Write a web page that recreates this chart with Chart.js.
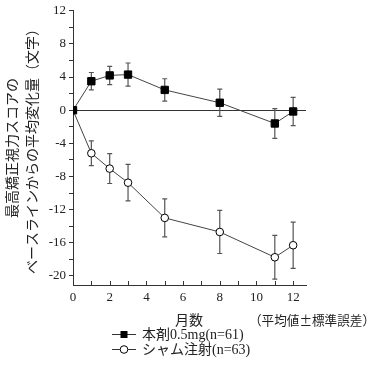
<!DOCTYPE html>
<html><head><meta charset="utf-8">
<script src="https://cdn.jsdelivr.net/npm/chart.js@4/dist/chart.umd.min.js"></script>
<style>html,body{margin:0;padding:0;background:#fff;}#wrap{width:382px;height:371px;position:relative;}</style>
</head><body><div id="wrap"><canvas id="c" width="382" height="371"></canvas></div>
<script>
const months = [0, 1, 2, 3, 5, 8, 11, 12];
const drugMean = [0, 3.5, 4.2, 4.3, 2.45, 0.9, -1.6, -0.15];
const drugSE = [0, 1.05, 1.1, 1.4, 1.35, 1.65, 1.8, 1.7];
const shamMean = [0, -5.2, -7.05, -8.75, -13.0, -14.7, -17.75, -16.3];
const shamSE = [0, 1.5, 1.8, 2.2, 2.3, 2.6, 2.65, 2.8];
const xTicks = [0, 1, 2, 3, 4, 5, 6, 7, 8, 9, 10, 11, 12];
const xLabels = [0, 2, 4, 6, 8, 10, 12];
const yTicks = [-20, -18, -16, -14, -12, -10, -8, -6, -4, -2, 0, 2, 4, 6, 8, 10, 12];
const yLabels = [-20, -16, -12, -8, -4, 0, 4, 8, 12];
const drugLabel = '本剤0.5mg(n=61)';
const shamLabel = 'シャム注射(n=63)';
const xTitle = '月数';
const noteText = '（平均値±標準誤差）';
const yTitle = ['最高矯正視力スコアの', 'ベースラインからの平均変化量（文字）'];

const SERIF = "'Liberation Serif','DejaVu Serif','Noto Sans CJK JP',serif";
const JP = "'Noto Sans CJK JP','Liberation Serif',sans-serif";
const INK = '#222';

const extras = {
  id: 'extras',
  beforeDatasetsDraw(chart) {
    const {ctx, chartArea: a, scales: {x, y}} = chart;
    ctx.save();
    ctx.strokeStyle = '#333'; ctx.lineWidth = 1;
    const y0 = Math.round(y.getPixelForValue(0)) + 0.5;
    ctx.beginPath(); ctx.moveTo(a.left, y0); ctx.lineTo(a.right, y0); ctx.stroke();
    ctx.strokeStyle = '#555'; ctx.lineWidth = 1.2;
    [[drugMean, drugSE], [shamMean, shamSE]].forEach(([m, s]) => {
      months.forEach((mo, i) => {
        if (!s[i]) return;
        const px = x.getPixelForValue(mo);
        const top = y.getPixelForValue(m[i] + s[i]);
        const bot = y.getPixelForValue(m[i] - s[i]);
        ctx.beginPath();
        ctx.moveTo(px, top); ctx.lineTo(px, bot);
        ctx.moveTo(px - 2.5, top); ctx.lineTo(px + 2.5, top);
        ctx.moveTo(px - 2.5, bot); ctx.lineTo(px + 2.5, bot);
        ctx.stroke();
      });
    });
    ctx.strokeStyle = '#333'; ctx.lineWidth = 1;
    xTicks.forEach(v => {
      const px = Math.round(x.getPixelForValue(v)) + 0.5;
      ctx.beginPath(); ctx.moveTo(px, a.bottom); ctx.lineTo(px, a.bottom - 4); ctx.stroke();
    });
    ctx.restore();
  },
  afterDraw(chart) {
    const {ctx} = chart;
    ctx.save();
    ctx.fillStyle = INK;
    ctx.textBaseline = 'middle';
    ctx.font = '14px ' + JP;
    ctx.textAlign = 'center';
    ctx.fillText(xTitle, 189, 320);
    ctx.font = '13px ' + JP;
    ctx.fillText(noteText, 312, 320, 126);
    const rows = [[drugLabel, 'rect', 334], [shamLabel, 'circle', 349]];
    rows.forEach(([label, style, yy]) => {
      ctx.strokeStyle = '#333'; ctx.lineWidth = 1;
      ctx.beginPath(); ctx.moveTo(112, yy + 0.5); ctx.lineTo(136, yy + 0.5); ctx.stroke();
      if (style === 'rect') {
        ctx.fillStyle = '#000';
        ctx.fillRect(120.5, yy - 3, 7, 7);
      } else {
        ctx.fillStyle = '#fff'; ctx.strokeStyle = '#000';
        ctx.beginPath(); ctx.arc(124, yy + 0.5, 3.8, 0, Math.PI * 2); ctx.fill(); ctx.stroke();
      }
      ctx.fillStyle = INK;
      ctx.textAlign = 'left';
      ctx.font = '14px ' + SERIF;
      ctx.fillText(label, 142, yy + 1);
    });
    ctx.restore();
  }
};

new Chart(document.getElementById('c'), {
  type: 'line',
  data: {
    datasets: [
      {
        label: drugLabel,
        data: months.map((m, i) => ({x: m, y: drugMean[i]})),
        borderColor: '#444', borderWidth: 1,
        pointStyle: 'rect', pointRadius: 5.2,
        pointBackgroundColor: '#000', pointBorderColor: '#000', pointBorderWidth: 1,
        tension: 0
      },
      {
        label: shamLabel,
        data: months.map((m, i) => ({x: m, y: shamMean[i]})),
        borderColor: '#444', borderWidth: 1,
        pointStyle: 'circle', pointRadius: 3.8,
        pointBackgroundColor: '#fff', pointBorderColor: '#000', pointBorderWidth: 1,
        tension: 0
      }
    ]
  },
  options: {
    responsive: false,
    animation: false,
    events: [],
    layout: {padding: {left: 0, top: 9, right: 76, bottom: 0}},
    plugins: {legend: {display: false}, tooltip: {enabled: false}},
    scales: {
      x: {
        type: 'linear', min: 0, max: 12.7,
        afterBuildTicks: s => { s.ticks = xTicks.map(v => ({value: v})); },
        afterFit: s => { s.height = 86; },
        grid: {display: false, drawTicks: false, tickLength: 0},
        border: {display: true, color: '#333', width: 1},
        ticks: {
          autoSkip: false, maxRotation: 0, padding: 5,
          color: INK, font: {family: SERIF, size: 13},
          callback: v => xLabels.includes(v) ? String(v) : ''
        }
      },
      y: {
        type: 'linear', min: -21.1, max: 12,
        afterBuildTicks: s => { s.ticks = yTicks.map(v => ({value: v})); },
        afterFit: s => { s.width = 73; },
        grid: {display: true, drawOnChartArea: false, tickLength: 4, color: '#333'},
        border: {display: true, color: '#333', width: 1},
        title: {
          display: true, text: yTitle, color: INK,
          font: {family: JP, size: 14, lineHeight: 1.4}, padding: {top: 2, bottom: 0}
        },
        ticks: {
          autoSkip: false, padding: 3,
          color: INK, font: {family: SERIF, size: 13},
          callback: v => yLabels.includes(v) ? String(v) : ''
        }
      }
    }
  },
  plugins: [extras]
});
</script></body></html>
